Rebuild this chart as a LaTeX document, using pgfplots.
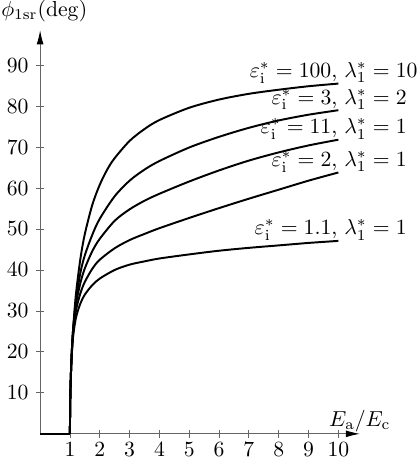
\documentclass[border=0pt]{standalone}
\usepackage{pgfplots}
\pgfplotsset{compat=1.18}
\usetikzlibrary{arrows.meta}
\tikzset{lbl/.style={inner sep=0pt, yshift=2.8pt}}
\begin{document}
\begin{tikzpicture}
\begin{axis}[
  x=13.76pt, y=1.89pt,
  xmin=0, xmax=10.72, ymin=0, ymax=98.5,
  axis lines=left,
  axis line style={black!60, line width=0.4pt, -{Latex[length=6.5pt, width=3.2pt, black]}},
  xtick={1,...,10}, ytick={10,20,...,90},
  tick align=center, major tick length=3.6pt,
  tick style={black!60, line width=0.4pt},
  xticklabel style={yshift=1.2pt},
  clip=false,
  xlabel={$E_{\mathrm{a}}/E_{\mathrm{c}}$},
  ylabel={$\phi_{\mathrm{1sr}}(\mathrm{deg})$},
  every axis x label/.style={at={(rel axis cs:1,0)}, anchor=base, yshift=3.4pt, inner sep=0pt},
  every axis y label/.style={at={(rel axis cs:0,1)}, anchor=base west, xshift=-18.1pt, yshift=6.6pt, inner sep=0pt},
]
\addplot[black, line width=0.9pt] coordinates {(0,0)(1,0)};
\addplot[black, line width=0.9pt, smooth] coordinates {(1,0)(1.005,5.8)(1.02,11.5)(1.05,18.0)(1.1,24.9)(1.2,34.0)(1.35,42.7)(1.5,48.8)(1.75,55.9)(2,60.8)(2.25,64.5)(2.5,67.3)(3,71.5)(3.5,74.4)(4,76.6)(5,79.6)(6,81.6)(7,83.0)(8,84.0)(9,84.85)(10,85.5)}
  node[pos=1, lbl, anchor=base east] {$\varepsilon_{\mathrm{i}}^{*}=100$,}
  node[pos=1, lbl, anchor=base west, xshift=2.3pt] {$\lambda_{1}^{*}=10$};
\addplot[black, line width=0.9pt, smooth] coordinates {(1,0)(1.005,5.8)(1.02,11.5)(1.05,18.0)(1.1,24.8)(1.2,32.5)(1.35,39.3)(1.5,43.6)(1.75,48.6)(2,52.5)(2.5,58.0)(3,61.8)(3.5,64.5)(4,66.6)(5,69.9)(6,72.5)(7,74.7)(8,76.5)(9,77.9)(10,79.0)}
  node[pos=1, lbl, anchor=base east] {$\varepsilon_{\mathrm{i}}^{*}=3$,}
  node[pos=1, lbl, anchor=base west, xshift=2.3pt] {$\lambda_{1}^{*}=2$};
\addplot[black, line width=0.9pt, smooth] coordinates {(1,0)(1.005,5.8)(1.02,11.5)(1.05,18.0)(1.1,24.6)(1.2,31.5)(1.35,36.8)(1.5,40.4)(1.75,44.6)(2,47.6)(2.5,52.0)(3,54.8)(3.5,56.9)(4,58.6)(5,61.6)(6,64.3)(7,66.7)(8,68.7)(9,70.4)(10,71.8)}
  node[pos=1, lbl, anchor=base east] {$\varepsilon_{\mathrm{i}}^{*}=11$,}
  node[pos=1, lbl, anchor=base west, xshift=2.3pt] {$\lambda_{1}^{*}=1$};
\addplot[black, line width=0.9pt, smooth] coordinates {(1,0)(1.005,5.8)(1.02,11.5)(1.05,17.8)(1.1,24.0)(1.2,30.0)(1.35,34.3)(1.5,37.1)(1.75,40.3)(2,42.5)(2.5,45.3)(3,47.3)(3.5,48.8)(4,50.2)(5,52.7)(6,55.1)(7,57.4)(8,59.6)(9,61.8)(10,63.8)}
  node[pos=1, lbl, anchor=base east] {$\varepsilon_{\mathrm{i}}^{*}=2$,}
  node[pos=1, lbl, anchor=base west, xshift=2.3pt] {$\lambda_{1}^{*}=1$};
\addplot[black, line width=0.9pt, smooth] coordinates {(1,0)(1.005,5.8)(1.02,11.4)(1.05,17.5)(1.1,23.3)(1.2,28.3)(1.35,31.8)(1.5,34.0)(1.75,36.3)(2,37.9)(2.5,40.0)(3,41.3)(3.5,42.1)(4,42.8)(5,43.8)(6,44.7)(7,45.4)(8,46.0)(9,46.6)(10,47.1)}
  node[pos=1, lbl, anchor=base east] {$\varepsilon_{\mathrm{i}}^{*}=1.1$,}
  node[pos=1, lbl, anchor=base west, xshift=2.3pt] {$\lambda_{1}^{*}=1$};
\coordinate (bbl) at (axis cs:-1.345,-5.9);
\coordinate (btr) at (axis cs:12.667,105.9);
\end{axis}
\pgfresetboundingbox
\path (bbl) rectangle (btr);
\end{tikzpicture}
\end{document}
